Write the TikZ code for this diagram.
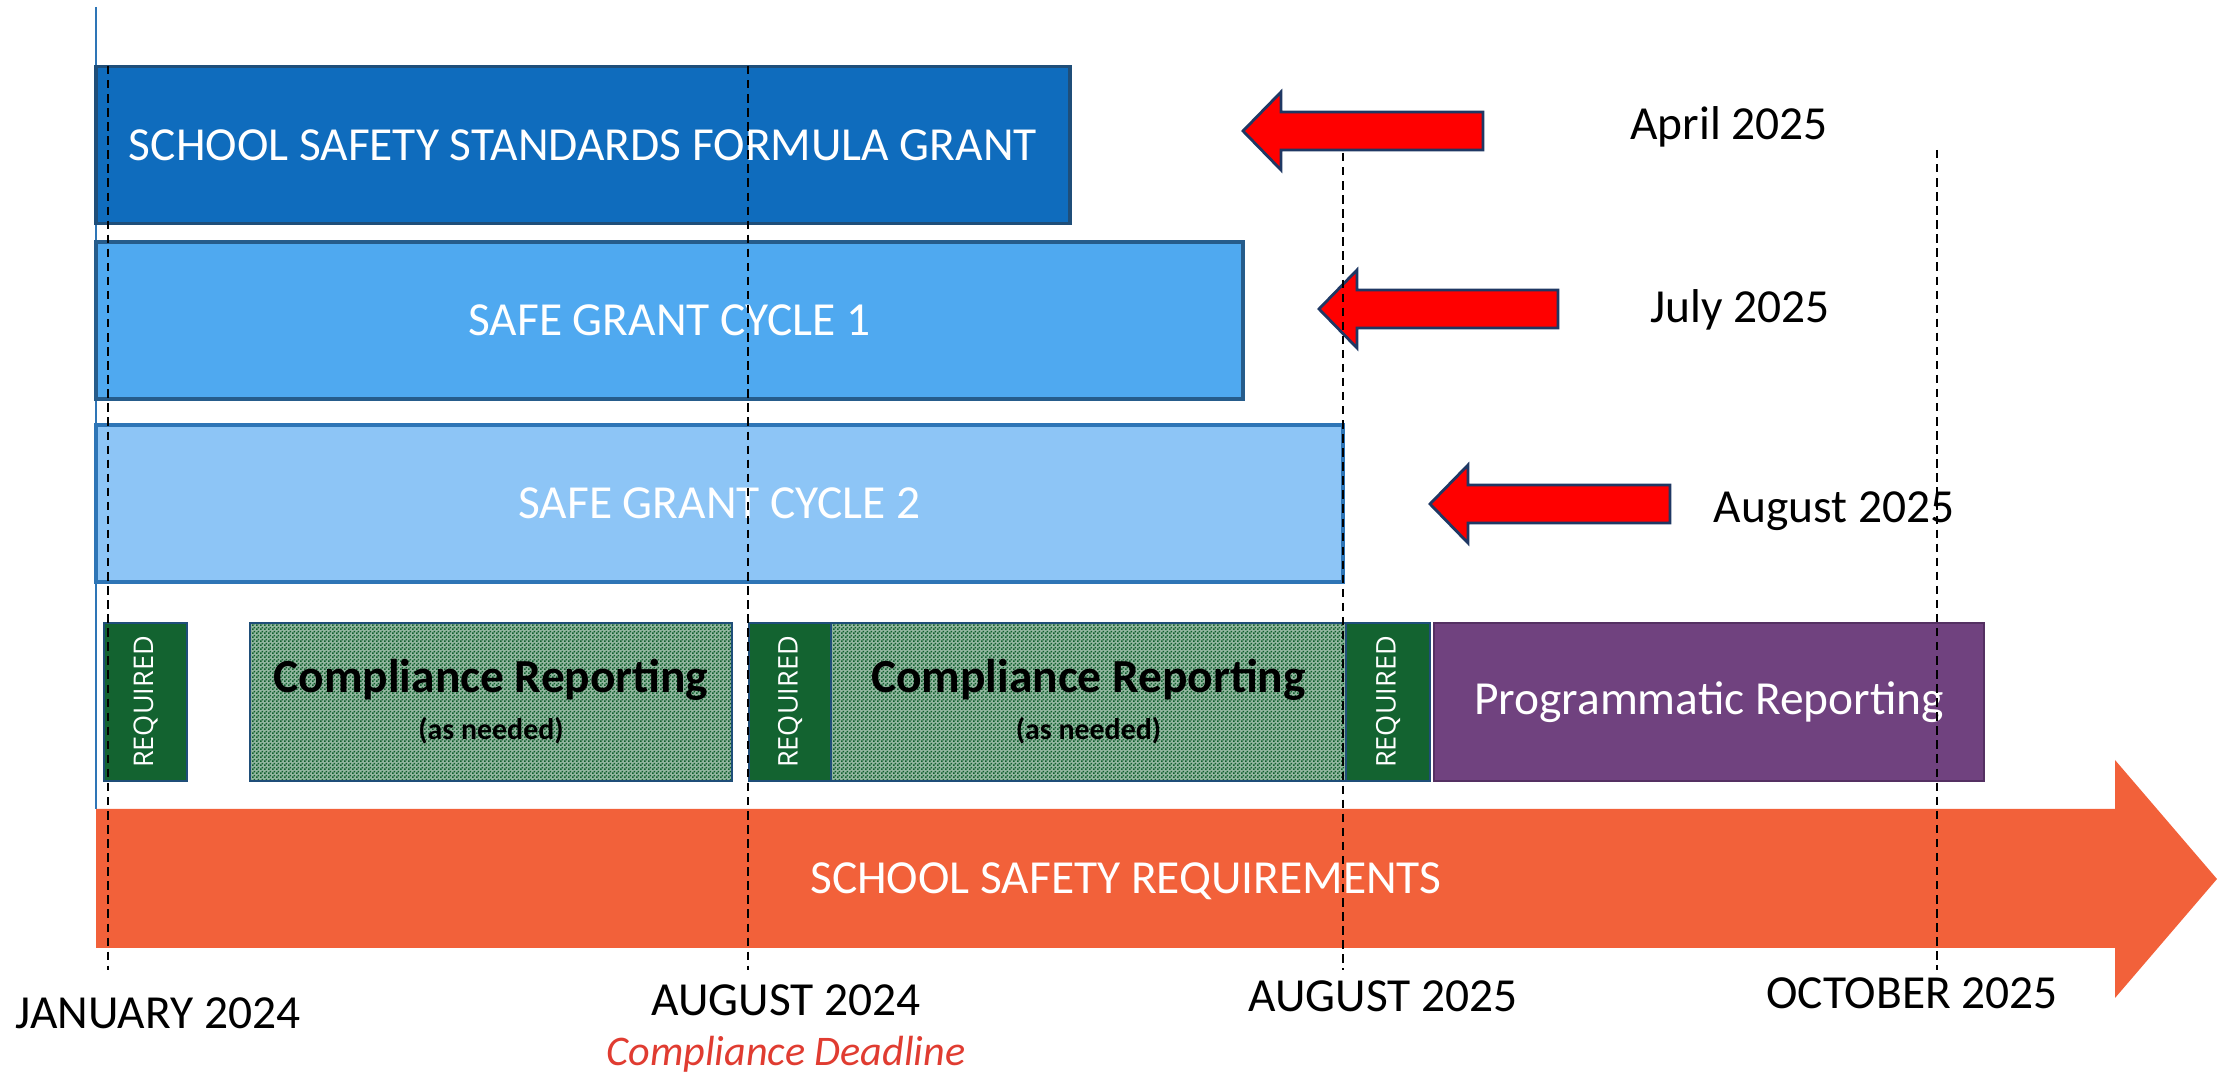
\documentclass[tikz,border=0pt]{standalone}
\usepackage{fontspec}
\setmainfont{Carlito}
\newfontfamily\reqfont{Open Sans}
\usetikzlibrary{positioning, patterns.meta}

\definecolor{formulablue}{RGB}{15,108,189}
\definecolor{cycleoneblue}{RGB}{79,169,240}
\definecolor{cycletwoblue}{RGB}{141,197,246}
\definecolor{edgeblue}{RGB}{31,78,121}
\definecolor{reqgreen}{RGB}{19,99,48}
\definecolor{checkgreen}{RGB}{16,95,45}
\definecolor{progpurple}{RGB}{112,66,127}
\definecolor{progedge}{RGB}{84,48,98}
\definecolor{arrowred}{RGB}{255,0,0}
\definecolor{navyedge}{RGB}{31,56,100}
\definecolor{timeorange}{RGB}{242,97,58}
\definecolor{deadlinered}{RGB}{224,60,49}
\definecolor{axisblue}{RGB}{46,117,182}

\tikzdeclarepattern{
    name=finechecker,
    type=uncolored,
    bottom left={(0pt,0pt)},
    top right={(1.14pt,1.14pt)},
    tile size={(1.14pt,1.14pt)},
    code={
        \fill (0pt,0pt) rectangle (0.6pt,0.6pt);
        \fill (0.57pt,0.57pt) rectangle (1.14pt,1.14pt);
    }
}

\begin{document}
\begin{tikzpicture}[
        bar/.style={draw=edgeblue, line width=0.9pt, anchor=west, minimum height=1.57cm, inner sep=0pt, outer sep=0pt, text=white, font=\fontsize{13.5}{16}\selectfont},
        reqbox/.style={draw=edgeblue, fill=reqgreen, line width=0.6pt, anchor=west, minimum width=0.83cm, minimum height=1.58cm, inner sep=0pt, outer sep=0pt, text=white, font=\reqfont\fontsize{7.7}{9}\selectfont},
        compbox/.style={draw=edgeblue, line width=0.6pt, preaction={fill=checkgreen!45!white}, pattern=finechecker, pattern color=checkgreen, anchor=west, minimum height=1.58cm, inner sep=0pt, outer sep=0pt, align=center, font=\bfseries\fontsize{13.5}{13.4}\selectfont},
        datelabel/.style={anchor=base, inner sep=0pt, font=\fontsize{13.5}{16}\selectfont},
        redarrow/.style={draw=navyedge, fill=arrowred, line width=0.8pt, line join=miter},
        guide/.style={black, line width=0.5pt, dash pattern=on 2.4pt off 1.6pt}
    ]
        \useasboundingbox (0,0) rectangle (22.36,10.74);

        % Time axis
        \draw[axisblue, line width=0.6pt] (0.96,10.67) -- (0.96,2.65);

        % Grant bars
        \node[bar, fill=formulablue, minimum width=9.74cm] (formula) at (0.96,9.29) {SCHOOL SAFETY STANDARDS FORMULA GRANT};
        \node[bar, fill=cycleoneblue, draw=edgeblue!85!cycleoneblue, minimum width=11.47cm] (cycleone) at (0.96,7.535) {SAFE GRANT CYCLE 1};
        \node[bar, fill=cycletwoblue, draw=axisblue, minimum width=12.47cm] (cycletwo) at (0.96,5.705) {SAFE GRANT CYCLE 2};

        % Extension arrows
        \foreach \tipx/\tipy/\tailx in {12.43/9.43/14.83, 13.19/7.65/15.58, 14.30/5.70/16.70}
            \draw[redarrow] (\tipx,\tipy) -- (\tipx+0.38,\tipy+0.39) -- (\tipx+0.38,\tipy+0.19) -- (\tailx,\tipy+0.19)
                -- (\tailx,\tipy-0.19) -- (\tipx+0.38,\tipy-0.19) -- (\tipx+0.38,\tipy-0.39) -- cycle;

        % New deadlines
        \node[datelabel] (april) at (17.29,9.34) {April 2025};
        \node[datelabel] (july) at (17.40,7.51) {July 2025};
        \node[datelabel] (august) at (18.34,5.51) {August 2025};

        % Reporting row
        \node[reqbox] (reqone) at (1.04,3.72) {\rotatebox{90}{REQUIRED}};
        \node[compbox, minimum width=4.82cm] (compone) at (2.50,3.72) {Compliance Reporting\\{\fontsize{8.5}{9}\selectfont (as needed)}};
        \node[reqbox, minimum width=0.82cm] (reqtwo) at (7.49,3.72) {\rotatebox{90}{REQUIRED}};
        \node[compbox, minimum width=5.15cm] (comptwo) at (8.31,3.72) {Compliance Reporting\\{\fontsize{8.5}{9}\selectfont (as needed)}};
        \node[reqbox, minimum width=0.84cm] (reqthree) at (13.46,3.72) {\rotatebox{90}{REQUIRED}};
        \node[bar, fill=progpurple, draw=progedge, line width=0.6pt, minimum width=5.50cm, minimum height=1.58cm] (prog) at (14.34,3.72) {Programmatic Reporting};

        % Requirements arrow
        \fill[timeorange] (0.96,1.26) -- (21.15,1.26) -- (21.15,0.76) -- (22.17,1.95) -- (21.15,3.14) -- (21.15,2.65) -- (0.96,2.65) -- cycle;
        \node[text=white, font=\fontsize{13.5}{16}\selectfont] (requirements) at (11.26,1.93) {SCHOOL SAFETY REQUIREMENTS};

        % Guides
        \foreach \gx/\gtop in {1.08/10.08, 7.48/10.08, 13.43/9.21, 19.37/9.24}
            \draw[guide] (\gx,\gtop) -- (\gx,1.04);

        % Milestones
        \node[datelabel] (jan24) at (1.58,0.45) {JANUARY 2024};
        \node[datelabel] (aug24) at (7.86,0.58) {AUGUST 2024};
        \node[datelabel, text=deadlinered, font=\itshape\fontsize{12}{14}\selectfont] (deadline) at (7.86,0.08) {Compliance Deadline};
        \node[datelabel] (aug25) at (13.83,0.62) {AUGUST 2025};
        \node[datelabel] (oct25) at (19.12,0.65) {OCTOBER 2025};
    \end{tikzpicture}
\end{document}
